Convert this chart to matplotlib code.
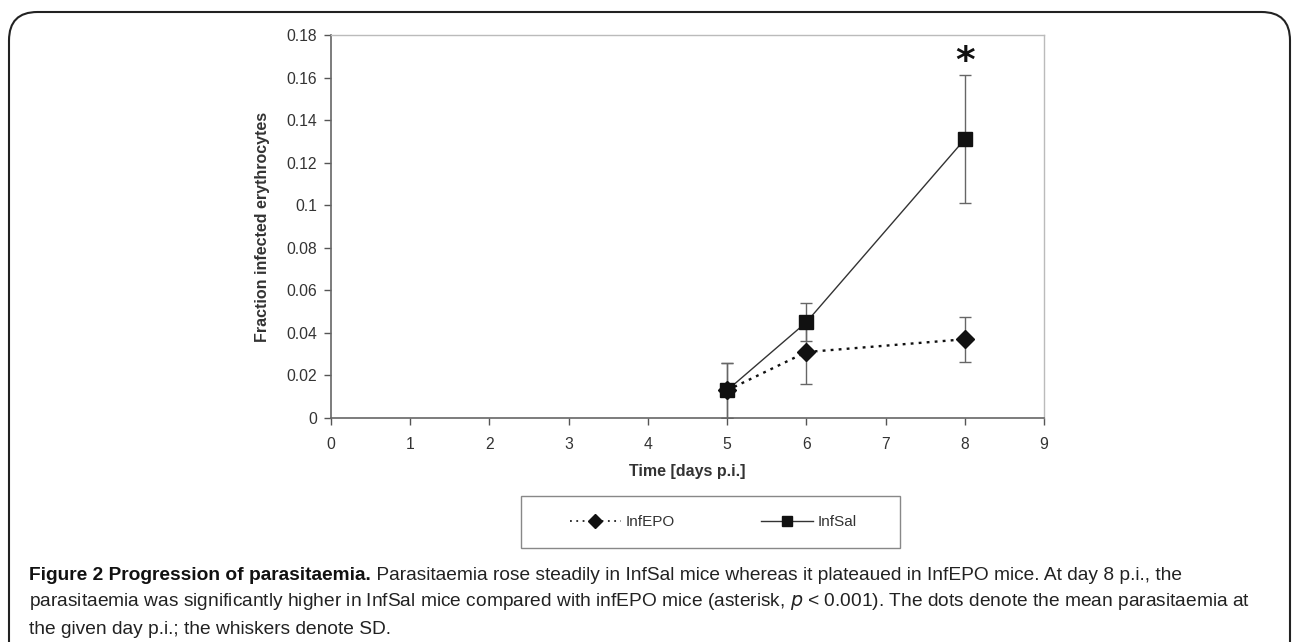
import numpy as np
import matplotlib.pyplot as plt
from matplotlib.patches import FancyBboxPatch, Rectangle
from matplotlib.lines import Line2D

days = [5, 6, 8]
epo_mean = [0.013, 0.031, 0.037]
epo_sd = [0.013, 0.015, 0.0105]
sal_mean = [0.013, 0.045, 0.131]
sal_sd = [0.013, 0.009, 0.030]
star_day, star_y = 8, 0.1706

x_ticks = list(range(0, 10))
y_ticks = [0, 0.02, 0.04, 0.06, 0.08, 0.1, 0.12, 0.14, 0.16, 0.18]
y_labels = ['0', '0.02', '0.04', '0.06', '0.08', '0.1', '0.12', '0.14', '0.16', '0.18']

caption_bold = 'Figure 2 Progression of parasitaemia.'
caption_lines = [
    ' Parasitaemia rose steadily in InfSal mice whereas it plateaued in InfEPO mice. At day 8 p.i., the',
    'parasitaemia was significantly higher in InfSal mice compared with infEPO mice (asterisk, $\\it{p}$ < 0.001). The dots denote the mean parasitaemia at',
    'the given day p.i.; the whiskers denote SD.',
]

plt.rcParams['font.family'] = ['Liberation Sans', 'DejaVu Sans']

W, H = 1293, 642
fig = plt.figure(figsize=(W / 100, H / 100), dpi=100)
ax = fig.add_axes([331 / W, 1 - 418 / H, (1044 - 331) / W, (418 - 35) / H])

ax.errorbar(days, epo_mean, yerr=epo_sd, color='#111111', linestyle=(0, (1.2, 2.2)), lw=1.7,
            marker='D', ms=9, ecolor='#666666', elinewidth=1, capsize=4, capthick=1, label='InfEPO')
ax.errorbar(days, sal_mean, yerr=sal_sd, color='#333333', linestyle='-', lw=1,
            marker='s', ms=9.5, mfc='#111111', mec='#111111', ecolor='#666666', elinewidth=1,
            capsize=4, capthick=1, label='InfSal')

# significance asterisk
ax.annotate('*', (star_day, star_y), xytext=(0, -5), textcoords='offset points',
            ha='center', va='center', fontsize=27, fontweight='bold', family='DejaVu Sans',
            color='#111111', annotation_clip=False)

ax.set_xlim(0, 9)
ax.set_ylim(0, 0.18)
ax.set_xticks(x_ticks)
ax.set_yticks(y_ticks)
ax.set_yticklabels(y_labels)
ax.tick_params(labelsize=11.3, colors='#555555', labelcolor='#333333', length=5, width=1, direction='out')
ax.tick_params(axis='x', pad=9)
ax.tick_params(axis='y', pad=5)
for s in ['left', 'bottom']:
    ax.spines[s].set_color('#666666')
    ax.spines[s].set_linewidth(1.2)
for s in ['top', 'right']:
    ax.spines[s].set_color('#bbbbbb')
    ax.spines[s].set_linewidth(1)
ax.set_xlabel('Time [days p.i.]', fontsize=11.5, fontweight='bold', color='#333333', labelpad=8)
ax.set_ylabel('Fraction infected erythrocytes', fontsize=11.5, fontweight='bold', color='#333333', labelpad=12)

# legend
h_epo = Line2D([], [], color='#222222', linestyle=(0, (1, 2.5)), lw=1.3, marker='D', ms=7, mfc='#111111', mec='#111111')
h_sal = Line2D([], [], color='#333333', linestyle='-', lw=1, marker='s', ms=7, mfc='#111111', mec='#111111')
leg = fig.legend([h_epo, h_sal], ['InfEPO', 'InfSal'], ncol=2, loc='center',
                 bbox_to_anchor=(713 / W, 1 - 522 / H), frameon=False,
                 fontsize=11, handlelength=3.4, columnspacing=5.6, handletextpad=0.3)
for t in leg.get_texts():
    t.set_color('#333333')
fig.add_artist(Rectangle((521 / W, 1 - 548 / H), 379 / W, 52 / H, transform=fig.transFigure,
                         fill=False, edgecolor='#888888', lw=1))

# outer rounded border, open at the bottom
bx = FancyBboxPatch((9 / W, -0.2), (1290 - 9) / W, (1 - 12 / H) + 0.2,
                    boxstyle='round,pad=0,rounding_size=0.022', transform=fig.transFigure,
                    fill=False, edgecolor='#222222', lw=1.5, mutation_aspect=W / H)
fig.patches.append(bx)

# caption, font size fitted so the long line ends near x=1245
fs = 13
probe = fig.text(0, 0, caption_lines[1], fontsize=fs)
fig.canvas.draw()
wpx = probe.get_window_extent().width
probe.remove()
fs = fs * (1245 - 29) / wpx

y0 = 1 - 575 / H
dy = 27 / H
tb = fig.text(29 / W, y0, caption_bold, fontsize=fs, fontweight='bold', va='center', color='#111111')
fig.canvas.draw()
bb = tb.get_window_extent()
fig.text(bb.x1 / W, y0, caption_lines[0], fontsize=fs, va='center', color='#222222')
fig.text(29 / W, y0 - dy, caption_lines[1], fontsize=fs, va='center', color='#222222')
fig.text(29 / W, y0 - 2 * dy, caption_lines[2], fontsize=fs, va='center', color='#222222')

fig.savefig('out.png', dpi=100)
